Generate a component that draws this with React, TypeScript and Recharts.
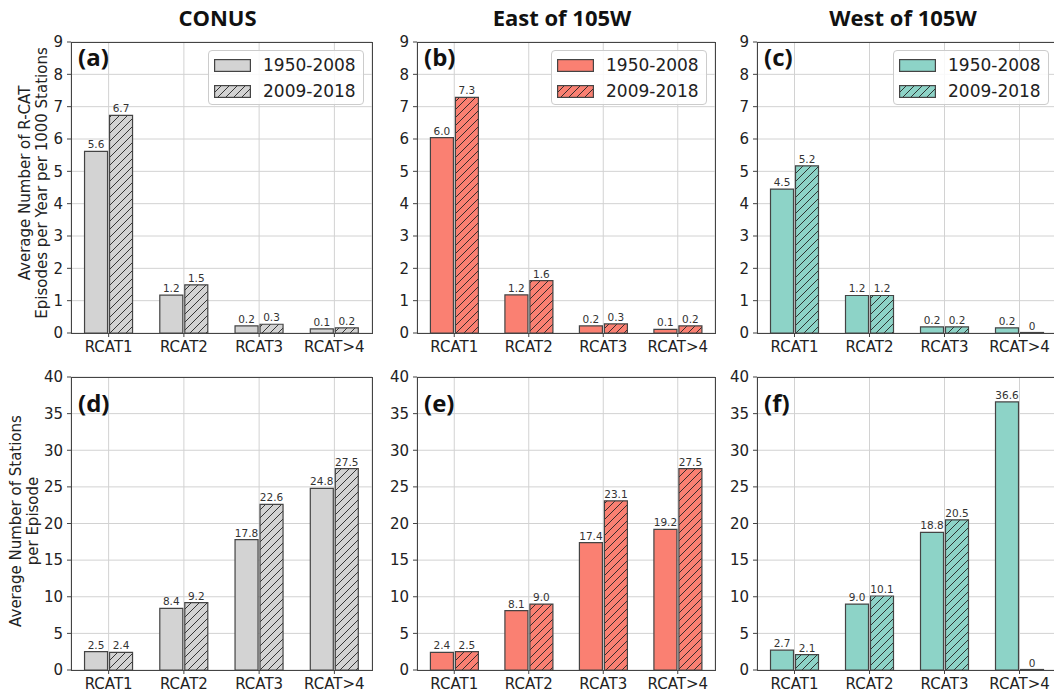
import React from 'react';
import { BarChart, Bar, XAxis, YAxis, CartesianGrid, LabelList } from 'recharts';

const categories = ['RCAT1', 'RCAT2', 'RCAT3', 'RCAT>4'];
const periods = ['1950-2008', '2009-2018'];
const regions = ['CONUS', 'East of 105W', 'West of 105W'];
const regionColors = ['#d3d3d3', '#fa8072', '#8dd3c7'];

// episodes per year per 1000 stations (top row)
const conusEpisodesEarly = [5.62, 1.17, 0.22, 0.13];
const conusEpisodesLate = [6.73, 1.49, 0.27, 0.16];
const eastEpisodesEarly = [6.04, 1.18, 0.22, 0.11];
const eastEpisodesLate = [7.29, 1.62, 0.28, 0.22];
const westEpisodesEarly = [4.45, 1.16, 0.19, 0.16];
const westEpisodesLate = [5.17, 1.16, 0.19, 0];

// stations per episode (bottom row)
const conusStationsEarly = [2.5, 8.4, 17.8, 24.8];
const conusStationsLate = [2.4, 9.2, 22.6, 27.5];
const eastStationsEarly = [2.4, 8.1, 17.4, 19.2];
const eastStationsLate = [2.5, 9.0, 23.1, 27.5];
const westStationsEarly = [2.7, 9.0, 18.8, 36.6];
const westStationsLate = [2.1, 10.1, 20.5, 0];

const episodeTicks = [0, 1, 2, 3, 4, 5, 6, 7, 8, 9];
const stationTicks = [0, 5, 10, 15, 20, 25, 30, 35, 40];

const TICK_FONT = '"DejaVu Sans", sans-serif';
const BOLD_FONT = '"Open Sans", sans-serif';

const YW = 44;
const MT = 10;
const XH = 30;
const MR = 4;

const colLeft = [71, 417, 757];
const colWidth = [301, 298, 300];
const rowTop = [42, 377];
const rowHeight = [291, 293];

const buildData = (early: number[], late: number[]) =>
  categories.map((name, i) => ({ name, early: early[i], late: late[i] }));

const fmt = (v: any) => (Number(v) === 0 ? '0' : Number(v).toFixed(1));

// value text above each bar (zero bars included)
const ValueLabel = (props: any) => {
  const { x, y, width, value } = props;
  if (value == null || x == null) return null;
  return (
    <text x={Number(x) + Number(width) / 2} y={Number(y) - 3} textAnchor="middle"
      fontSize={10.5} fill="#333" fontFamily={TICK_FONT}>
      {fmt(value)}
    </text>
  );
};

const HatchDefs = ({ id, color }: { id: string; color: string }) => (
  <pattern id={id} patternUnits="userSpaceOnUse" width={8} height={8}>
    <rect width={8} height={8} fill={color} />
    <path d="M-2,2 L2,-2 M0,8 L8,0 M6,10 L10,6" stroke="#222" strokeWidth={0.9} />
  </pattern>
);

type PanelProps = {
  id: string;
  left: number;
  top: number;
  width: number;
  height: number;
  early: number[];
  late: number[];
  color: string;
  ticks: number[];
  letter: string;
  letterDy: number;
  legend: boolean;
};

const Panel = ({ id, left, top, width, height, early, late, color, ticks, letter, letterDy, legend }: PanelProps) => {
  const data = buildData(early, late);
  return (
    <>
      <div style={{ position: 'absolute', left: left - YW, top: top - MT }}>
        <BarChart
          width={width + YW + MR}
          height={height + MT + XH}
          data={data}
          margin={{ top: MT, right: MR, bottom: 0, left: 0 }}
          barCategoryGap="18%"
          barGap={2}
        >
          <defs>
            <HatchDefs id={`hatch-${id}`} color={color} />
          </defs>
          <CartesianGrid stroke="#d2d2d2" strokeWidth={1} />
          <XAxis
            dataKey="name"
            height={XH}
            interval={0}
            axisLine={false}
            tickSize={4}
            tickMargin={4}
            tickLine={{ stroke: '#444' }}
            tick={{ fontSize: 15, fill: '#222', fontFamily: TICK_FONT }}
          />
          <YAxis
            width={YW}
            domain={[0, ticks[ticks.length - 1]]}
            ticks={ticks}
            interval={0}
            axisLine={false}
            tickSize={4}
            tickMargin={4}
            tickLine={{ stroke: '#444' }}
            tick={{ fontSize: 15, fill: '#222', fontFamily: TICK_FONT }}
          />
          <Bar dataKey="early" fill={color} stroke="#444" strokeWidth={1.2} minPointSize={0.5} isAnimationActive={false}>
            <LabelList dataKey="early" content={ValueLabel} />
          </Bar>
          <Bar dataKey="late" fill={`url(#hatch-${id})`} stroke="#444" strokeWidth={1.2} minPointSize={0.5} isAnimationActive={false}>
            <LabelList dataKey="late" content={ValueLabel} />
          </Bar>
        </BarChart>
      </div>
      <div
        style={{
          position: 'absolute', left, top, width: width + 1, height: height + 1,
          border: '1px solid #444', boxSizing: 'border-box', pointerEvents: 'none',
        }}
      />
      <div
        style={{
          position: 'absolute', left: left + 7, top: top + letterDy - 24,
          fontFamily: BOLD_FONT, fontWeight: 700, fontSize: 24, lineHeight: '30px', color: '#111',
        }}
      >
        {letter}
      </div>
      {legend && (
        <div
          style={{
            position: 'absolute', left: left + width - 8 - 156, top: top + 8, width: 156, height: 55,
            border: '1px solid #ccc', borderRadius: 4, background: 'rgba(255,255,255,0.85)', boxSizing: 'border-box',
          }}
        >
          {periods.map((p, i) => (
            <div key={p} style={{ position: 'absolute', left: 5, top: 7 + i * 26, height: 14, display: 'flex', alignItems: 'center' }}>
              <svg width={37} height={13} style={{ display: 'block' }}>
                <defs>
                  <HatchDefs id={`leg-${id}`} color={color} />
                </defs>
                <rect x={0.6} y={0.6} width={35.8} height={11.8} fill={i === 0 ? color : `url(#leg-${id})`} stroke="#444" strokeWidth={1.2} />
              </svg>
              <span style={{ marginLeft: 12, fontFamily: TICK_FONT, fontSize: 17, color: '#222', lineHeight: '14px' }}>{p}</span>
            </div>
          ))}
        </div>
      )}
    </>
  );
};

const App = () => {
  const topSeries = [
    [conusEpisodesEarly, conusEpisodesLate],
    [eastEpisodesEarly, eastEpisodesLate],
    [westEpisodesEarly, westEpisodesLate],
  ];
  const bottomSeries = [
    [conusStationsEarly, conusStationsLate],
    [eastStationsEarly, eastStationsLate],
    [westStationsEarly, westStationsLate],
  ];
  const topLetters = ['(a)', '(b)', '(c)'];
  const bottomLetters = ['(d)', '(e)', '(f)'];

  return (
    <div style={{ position: 'absolute', left: 0, top: 0, width: 1054, height: 696, overflow: 'hidden', background: '#fff' }}>
      {regions.map((r, c) => (
        <Panel
          key={`top-${r}`}
          id={`t${c}`}
          left={colLeft[c]}
          top={rowTop[0]}
          width={colWidth[c]}
          height={rowHeight[0]}
          early={topSeries[c][0]}
          late={topSeries[c][1]}
          color={regionColors[c]}
          ticks={episodeTicks}
          letter={topLetters[c]}
          letterDy={24}
          legend
        />
      ))}
      {regions.map((r, c) => (
        <Panel
          key={`bottom-${r}`}
          id={`b${c}`}
          left={colLeft[c]}
          top={rowTop[1]}
          width={colWidth[c]}
          height={rowHeight[1]}
          early={bottomSeries[c][0]}
          late={bottomSeries[c][1]}
          color={regionColors[c]}
          ticks={stationTicks}
          letter={bottomLetters[c]}
          letterDy={35}
          legend={false}
        />
      ))}
      <svg width={1054} height={696} style={{ position: 'absolute', left: 0, top: 0, pointerEvents: 'none' }}>
        {regions.map((r, c) => (
          <text key={r} x={colLeft[c] + colWidth[c] / 2 - 4} y={26} textAnchor="middle"
            fontFamily={BOLD_FONT} fontWeight={700} fontSize={22} fill="#111">
            {r}
          </text>
        ))}
        <g fontFamily={TICK_FONT} fontSize={15} fill="#222" textAnchor="middle">
          <text transform="translate(25,183) rotate(-90)" dominantBaseline="central">Average Number of R-CAT</text>
          <text transform="translate(42,183) rotate(-90)" dominantBaseline="central">Episodes per Year per 1000 Stations</text>
          <text transform="translate(16,521) rotate(-90)" dominantBaseline="central">Average Number of Stations</text>
          <text transform="translate(33,521) rotate(-90)" dominantBaseline="central">per Episode</text>
        </g>
      </svg>
    </div>
  );
};

export default App;
